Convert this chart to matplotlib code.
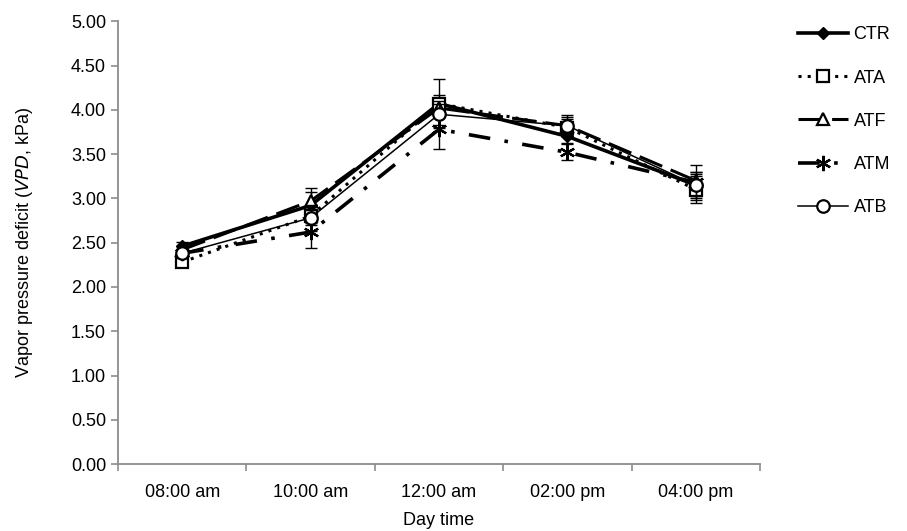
import numpy as np
import matplotlib
matplotlib.use("Agg")
import matplotlib.pyplot as plt

plt.rcParams['font.family'] = ['Liberation Sans', 'DejaVu Sans']

times = ['08:00 am', '10:00 am', '12:00 am', '02:00 pm', '04:00 pm']

ctr = [2.46, 2.92, 4.07, 3.70, 3.15]
ata = [2.28, 2.80, 4.07, 3.80, 3.10]
atf = [2.42, 2.97, 4.02, 3.82, 3.20]
atm = [2.38, 2.62, 3.78, 3.52, 3.18]
atb = [2.38, 2.78, 3.95, 3.82, 3.15]

ctr_err = [0.05, 0.20, 0.28, 0.08, 0.12]
ata_err = [0.05, 0.10, 0.10, 0.10, 0.15]
atf_err = [0.04, 0.10, 0.08, 0.10, 0.10]
atm_err = [0.05, 0.18, 0.22, 0.09, 0.20]
atb_err = [0.04, 0.15, 0.12, 0.12, 0.15]

x = np.arange(len(times))

fig = plt.figure(figsize=(9.07, 5.31), dpi=100)
ax = fig.add_axes([0.130, 0.126, 0.708, 0.834])

series = [
    ('CTR', ctr, ctr_err, dict(linestyle='-', linewidth=2.6, marker='D', markersize=6,
                               markerfacecolor='black')),
    ('ATA', ata, ata_err, dict(linestyle=(0, (1, 2)), linewidth=2.2, marker='s', markersize=8,
                               markerfacecolor='white', markeredgewidth=1.6)),
    ('ATF', atf, atf_err, dict(linestyle=(0, (8, 3)), linewidth=2.2, marker='^', markersize=8,
                               markerfacecolor='white', markeredgewidth=1.6)),
    ('ATM', atm, atm_err, dict(linestyle=(0, (6, 4, 1, 4)), linewidth=2.6, marker=(6, 2, 0),
                               markersize=11, markeredgewidth=1.6)),
    ('ATB', atb, atb_err, dict(linestyle='-', linewidth=1.1, marker='o', markersize=9,
                               markerfacecolor='white', markeredgewidth=1.6)),
]

for name, vals, err, style in series:
    ax.errorbar(x, vals, yerr=err, fmt='none', ecolor='black', elinewidth=1.0,
                capsize=4, capthick=1.0)
    ax.plot(x, vals, color='black', label=name, **style)

ax.set_xlim(-0.5, len(times) - 0.5)
ax.set_ylim(0, 5)
ax.set_yticks(np.arange(0, 5.01, 0.5))
ax.set_yticklabels(['%.2f' % v for v in np.arange(0, 5.01, 0.5)])

ax.set_xticks(np.arange(-0.5, len(times), 1.0))
ax.set_xticklabels([])
ax.set_xticks(x, minor=True)
ax.set_xticklabels(times, minor=True)
ax.tick_params(axis='x', which='minor', length=0, pad=14, labelsize=13)
ax.tick_params(axis='x', which='major', length=5, color='#8c8c8c', width=1.2)
ax.tick_params(axis='y', length=5, color='#8c8c8c', width=1.2, labelsize=13)

for s in ['top', 'right']:
    ax.spines[s].set_visible(False)
for s in ['left', 'bottom']:
    ax.spines[s].set_color('#8c8c8c')
    ax.spines[s].set_linewidth(1.3)

ax.set_xlabel('Day time', fontsize=13, labelpad=8)
ax.set_ylabel('Vapor pressure deficit ($\\it{VPD}$, kPa)', fontsize=13, labelpad=26)

leg = ax.legend(loc='upper left', bbox_to_anchor=(1.033, 1.025), frameon=False, fontsize=13,
                handlelength=2.8, labelspacing=1.45, handletextpad=0.3)

fig.savefig('out.png', dpi=100)
